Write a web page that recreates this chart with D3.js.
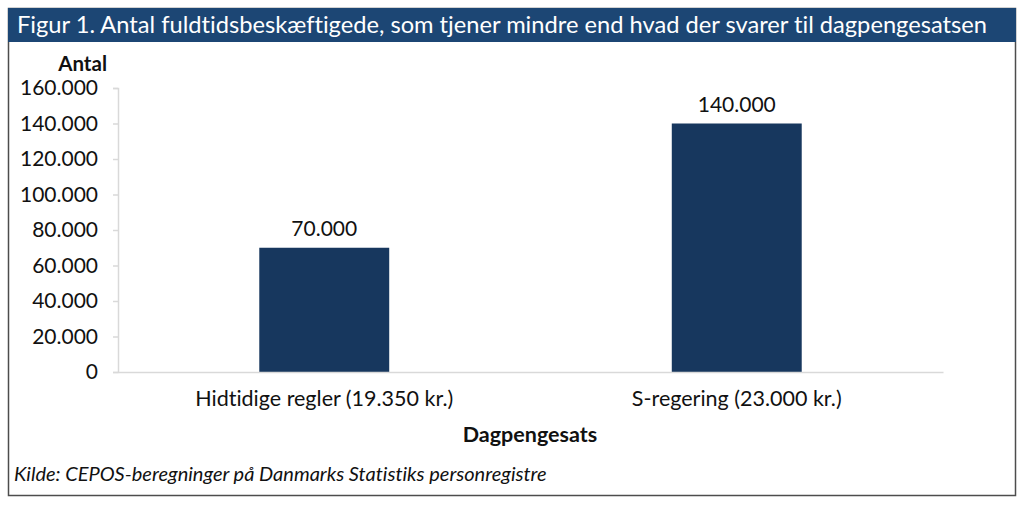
<!DOCTYPE html>
<html><head><meta charset="utf-8">
<script src="https://cdn.jsdelivr.net/npm/d3@7"></script>
<style>body{margin:0;background:#fff}svg{display:block}text{font-variant-ligatures:none}</style>
</head><body>
<script>
const categories = ["Hidtidige regler (19.350 kr.)", "S-regering (23.000 kr.)"];
const values = [70000, 140000];
const yTicks = [0, 20000, 40000, 60000, 80000, 100000, 120000, 140000, 160000];
const title = "Figur 1. Antal fuldtidsbeskæftigede, som tjener mindre end hvad der svarer til dagpengesatsen";
const yTitle = "Antal";
const xTitle = "Dagpengesats";
const source = "Kilde: CEPOS-beregninger på Danmarks Statistiks personregistre";

const W = 1024, H = 505;
const svg = d3.select("body").append("svg").attr("width", W).attr("height", H)
  .style("font-family", "Lato, 'Open Sans', sans-serif");

const fmt = v => d3.format(",")(v).replace(/,/g, ".");

// frame
svg.append("rect").attr("x", 8.5).attr("y", 8.5).attr("width", 1007).attr("height", 487)
  .attr("fill", "#fff").attr("stroke", "#4d4d4d").attr("stroke-width", 1.5);
svg.append("rect").attr("x", 8).attr("y", 8).attr("width", 1008).attr("height", 34)
  .attr("fill", "#1c4674");
svg.append("text").attr("x", 17).attr("y", 33).attr("fill", "#fff")
  .attr("font-size", 24).attr("textLength", 970).attr("lengthAdjust", "spacingAndGlyphs")
  .text(title);

const x = d3.scaleBand().domain(categories).range([118, 943]).paddingInner(0.685).paddingOuter(0.3425);
const y = d3.scaleLinear().domain([0, 160000]).range([372, 88]);

const yAxis = svg.append("g").attr("transform", "translate(118,0)")
  .call(d3.axisLeft(y).tickValues(yTicks).tickFormat(fmt).tickSize(5).tickPadding(15));
yAxis.select(".domain").attr("stroke", "#d9d9d9").attr("stroke-width", 1.5);
yAxis.selectAll(".tick line").attr("stroke", "#d9d9d9").attr("stroke-width", 1.5);
yAxis.selectAll(".tick text").attr("font-size", 21).attr("fill", "#111").attr("font-family", "Lato, sans-serif");

svg.selectAll("rect.bar").data(values).join("rect").attr("class", "bar")
  .attr("x", (d, i) => x(categories[i])).attr("width", x.bandwidth())
  .attr("y", d => y(d)).attr("height", d => y(0) - y(d)).attr("fill", "#17375e");

const xAxis = svg.append("g").attr("transform", "translate(0,372)")
  .call(d3.axisBottom(x).tickSize(0).tickPadding(19));
xAxis.select(".domain").attr("stroke", "#d9d9d9").attr("stroke-width", 1.5);
xAxis.selectAll(".tick text").attr("font-size", 21.5).attr("fill", "#111").attr("font-family", "Lato, sans-serif");

svg.selectAll("text.val").data(values).join("text").attr("class", "val")
  .attr("x", (d, i) => x(categories[i]) + x.bandwidth() / 2).attr("y", d => y(d) - 12)
  .attr("text-anchor", "middle").attr("font-size", 21).attr("fill", "#111").text(fmt);

svg.append("text").attr("x", 107).attr("y", 71).attr("text-anchor", "end")
  .attr("font-size", 20.5).attr("font-weight", "bold").attr("fill", "#111").text(yTitle);
svg.append("text").attr("x", 530).attr("y", 442).attr("text-anchor", "middle")
  .attr("font-size", 21.5).attr("font-weight", "bold").attr("fill", "#111").text(xTitle);
svg.append("text").attr("x", 14).attr("y", 481)
  .attr("font-size", 20).attr("font-style", "italic").attr("fill", "#111").text(source);
</script>
</body></html>
